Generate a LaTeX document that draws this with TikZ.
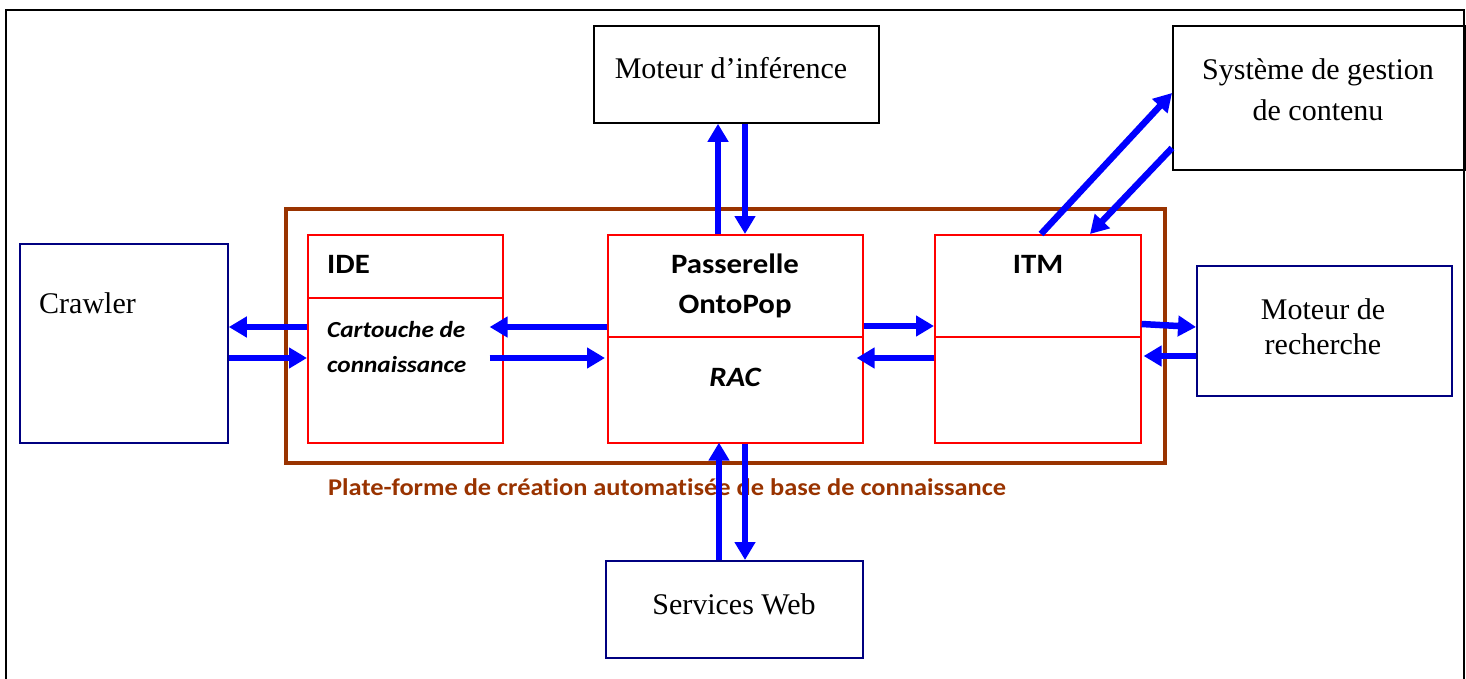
\documentclass[tikz,border=0pt]{standalone}
\usepackage{fontspec}
\setmainfont{Liberation Serif}
\newfontfamily\carl[FakeStretch=1.1,Ligatures=NoCommon]{Carlito}
\usetikzlibrary{arrows.meta,calc}
\definecolor{brownp}{RGB}{153,51,0}
\definecolor{navyb}{RGB}{0,0,128}
\definecolor{arrblue}{RGB}{0,0,255}
\begin{document}
\begin{tikzpicture}[x=1pt,y=-1pt,
  blackbox/.style={draw=black,line width=1.8pt,inner sep=0pt,anchor=north west},
  navybox/.style={draw=navyb,line width=1.8pt,inner sep=0pt,anchor=north west},
  redbox/.style={draw=red,line width=1.6pt,inner sep=0pt,anchor=north west},
  platbox/.style={draw=brownp,line width=3.5pt,inner sep=0pt,anchor=north west},
  serif/.style={font=\fontsize{30}{41}\selectfont,inner sep=0pt},
  boldlbl/.style={font=\carl\bfseries\fontsize{28}{40}\selectfont,inner sep=0pt},
  itlbl/.style={font=\carl\bfseries\itshape\fontsize{23}{35}\selectfont,inner sep=0pt},
  flow/.style={draw=arrblue,line width=6.5pt,-{Triangle[length=18pt,width=20pt]}},
  divline/.style={draw=red,line width=1.6pt}]
\useasboundingbox (0,0) rectangle (1466,679);
\draw[line width=2pt] (6,690) -- (6,10) -- (1464,10) -- (1464,690);

% boxes
\node[platbox,minimum width=879,minimum height=254] (plat) at (284,207) {};
\node[blackbox,minimum width=285,minimum height=97] (minf) at (593,25) {};
\node[blackbox,minimum width=292,minimum height=144] (sgc) at (1172,25) {};
\node[navybox,minimum width=208,minimum height=199] (crawler) at (19,243) {};
\node[redbox,minimum width=195,minimum height=208] (ide) at (307,234) {};
\node[redbox,minimum width=255,minimum height=208] (pass) at (607,234) {};
\node[redbox,minimum width=206,minimum height=208] (itm) at (934,234) {};
\node[navybox,minimum width=255,minimum height=130] (mdr) at (1196,265) {};
\node[navybox,minimum width=257,minimum height=97] (sweb) at (605,560) {};

% dividers
\draw[divline] (ide.west |- 0,298) -- (ide.east |- 0,298);
\draw[divline] (pass.west |- 0,337) -- (pass.east |- 0,337);
\draw[divline] (itm.west |- 0,337) -- (itm.east |- 0,337);

% texts
\node[serif,anchor=base] (tminf) at (731,79) {Moteur d’inférence};
\node[serif,anchor=base] (tsgc1) at (1318,80) {Système de gestion};
\node[serif,anchor=base] (tsgc2) at (1318,121) {de contenu};
\node[serif,anchor=base west] (tcrawl) at (39,313) {Crawler};
\node[serif,anchor=base] (tmdr1) at (1323,319) {Moteur de};
\node[serif,anchor=base] (tmdr2) at (1323,354) {recherche};
\node[serif,anchor=base] (tsweb) at (734,614) {Services Web};
\node[boldlbl,anchor=base west] (tide) at (327,273) {IDE};
\node[itlbl,anchor=base west] (tcart1) at (327,337) {Cartouche de};
\node[itlbl,anchor=base west] (tcart2) at (327,372) {connaissance};
\node[boldlbl,anchor=base] (tpass1) at (735,273) {Passerelle};
\node[boldlbl,anchor=base] (tpass2) at (735,313) {OntoPop};
\node[boldlbl,anchor=base,font=\carl\bfseries\itshape\fontsize{28}{40}\selectfont] (trac) at (735,386) {RAC};
\node[boldlbl,anchor=base] (titm) at (1038,273) {ITM};
\node[anchor=base west,inner sep=0pt,text=brownp,font=\carl\bfseries\fontsize{24}{30}\selectfont] (tplat) at (328,495) {Plate-forme de création automatisée de base de connaissance};

% connectors
\draw[flow] (ide.west |- 0,327) -- (crawler.east |- 0,327);
\draw[flow] (crawler.east |- 0,358) -- (ide.west |- 0,358);
\draw[flow] (pass.west |- 0,327) -- ($(ide.east |- 0,327)+(-14,0)$);
\draw[flow] ($(ide.east |- 0,358)+(-14,0)$) -- ($(pass.west |- 0,358)+(-2,0)$);
\draw[flow] (pass.east |- 0,326) -- (itm.west |- 0,326);
\draw[flow] (itm.west |- 0,358) -- ($(pass.east |- 0,358)+(-7,0)$);
\draw[flow] (itm.east |- 0,324) -- (mdr.west |- 0,327);
\draw[flow] (mdr.west |- 0,356) -- ($(itm.east |- 0,356)+(2,0)$);
\draw[flow] (pass.north -| 718,0) -- (minf.south -| 718,0);
\draw[flow] (minf.south -| 745,0) -- (pass.north -| 745,0);
\draw[flow] (sweb.north -| 719,0) -- ($(pass.south -| 719,0)+(0,-1)$);
\draw[flow] (pass.south -| 745,0) -- (sweb.north -| 745,0);
\draw[flow] (itm.north -| 1041,0) -- (sgc.west |- 0,93);
\draw[flow] (sgc.west |- 0,148) -- (itm.north -| 1090,0);
\end{tikzpicture}
\end{document}
